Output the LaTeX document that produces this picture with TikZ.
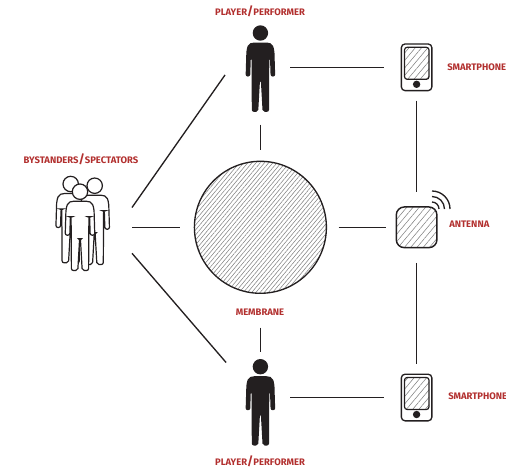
\documentclass[tikz,border=0pt]{standalone}
\usepackage{fontspec}
\setmainfont{Fira Sans}
\usetikzlibrary{patterns.meta}
\definecolor{tagred}{HTML}{B2302F}
\definecolor{inkdark}{HTML}{231F20}
\newcommand{\bigslash}{{\fontsize{9}{9}\selectfont/}}
\tikzset{
	link/.style={draw=inkdark, line width=1pt},
	tag/.style={text=tagred, font=\bfseries\fontsize{7.1}{7.5}\selectfont, inner sep=0pt},
	hatch wide/.style={pattern={Lines[angle=50,distance=3.6pt,line width=.4pt]}, pattern color=gray},
	hatch fine/.style={pattern={Lines[angle=50,distance=2.4pt,line width=.4pt]}, pattern color=gray},
	hitbox/.style={minimum width=45pt, minimum height=#1, inner sep=0pt, outer sep=0pt},
	every phone/.style={draw=inkdark, line width=1pt, fill=white, rounded corners=2.8pt, minimum width=22.9pt, minimum height=35pt, inner sep=0pt, outer xsep=13.3pt, outer ysep=7.5pt},
	person/.pic={
		\path [pic actions] (0,-37) circle (7.7);
		\path [pic actions, rounded corners=1.5pt] (0,-27.5) -- (-8,-27.5) -- (-12,-26) -- (-14,-20) -- (-14.8,6.5) -- (-10.2,6.5) -- (-9.6,-12)
			-- (-8.9,-12) -- (-8.6,41.8) -- (-2.2,41.8) -- (-.4,10) -- (.4,10) -- (2.2,41.8) -- (8.6,41.8) -- (8.9,-12)
			-- (9.6,-12) -- (10.2,6.5) -- (14.8,6.5) -- (14,-20) -- (12,-26) -- (8,-27.5) -- cycle;
	},
}
\begin{document}
\begin{tikzpicture}[x=.75pt, y=-.75pt]
	\clip (0,0) rectangle (506,468);

	\node [circle, draw=inkdark, line width=1pt, hatch fine, minimum size=99pt, inner sep=0pt] (membrane) at (260.4,227.3) {};

	\node [hitbox=86pt] (player-top) at (260.4,67.3) {};
	\node [hitbox=69pt] (player-bot) at (260.4,397.5) {};
	\pic [fill=inkdark] at (260.4,70) {person};
	\pic [fill=inkdark] at (260.4,403.7) {person};

	\node [minimum width=73.5pt, minimum height=39pt, inner sep=0pt, outer sep=0pt] (crowd) at (83,227.3) {};
	\foreach \x/\y in {70.7/221, 94.7/222.7, 80/228.7}
	\pic [draw=inkdark, fill=white, line width=.9pt] at (\x,\y) {person};

	\foreach \m/\y in {top/67.3, bot/397.5} {
		\node [every phone] (phone-\m) at (416.6,\y) {};
		\draw [draw=inkdark, line width=.9pt, hatch wide, rounded corners=2pt] (404.5,\y-20) rectangle (429,\y+12);
		\fill [inkdark] (416.6,\y+17) circle (3.7);
	}

	\node [draw=inkdark, line width=1.1pt, hatch wide, rounded corners=6pt, minimum size=30.5pt, inner sep=0pt, outer xsep=8pt, outer ysep=11.5pt] (antenna) at (416.6,227.3) {};
	\foreach \r in {7,12.5,18}
	\draw [inkdark, line width=1pt] (432,209-\r) arc [start angle=-90, end angle=0, radius=\r];

	\draw [link] (player-top) -- (phone-top);
	\draw [link] (player-bot) -- (phone-bot);
	\draw [link] (phone-top) -- (antenna);
	\draw [link] (antenna) -- (phone-bot);
	\draw [link, shorten <=9pt] (membrane) -- (antenna);
	\draw [link, shorten >=8.5pt] (player-top) -- (membrane);
	\draw [link, shorten <=25.5pt] (membrane) -- (player-bot);
	\draw [link, shorten >=10.5pt] (crowd) -- (membrane);
	\draw [link, shorten >=7pt] (crowd.22) -- (player-top.west);
	\draw [link, shorten >=5pt] (crowd.south east) -- (player-bot.135);

	\node [tag] (tag-crowd) at (81,159.5) {BYSTANDERS\bigslash SPECTATORS};
	\node [tag] (tag-top) at (260,11.5) {PLAYER\bigslash PERFORMER};
	\node [tag] (tag-bot) at (260,461) {PLAYER\bigslash PERFORMER};
	\node [tag] (tag-membrane) at (260,312) {MEMBRANE};
	\node [tag, anchor=west] (tag-antenna) at (449,224.5) {ANTENNA};
	\node [tag, anchor=west] (tag-phone-top) at (447,67) {SMARTPHONE};
	\node [tag, anchor=west] (tag-phone-bot) at (448,396.5) {SMARTPHONE};
\end{tikzpicture}
\end{document}
